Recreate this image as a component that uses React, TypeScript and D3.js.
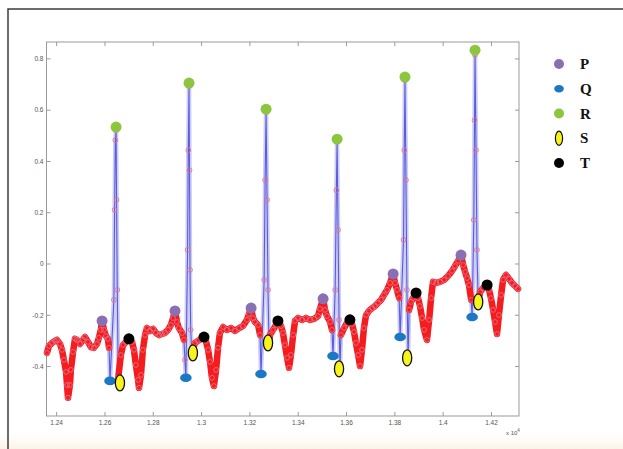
import React from "react";
import * as d3 from "d3";

// ECG samples (sample index, amplitude)
const sampleIdx = [
  12360, 12368, 12381, 12393, 12401, 12414, 12422, 12430, 12439, 12443, 12447, 12455, 12459, 12468, 12476, 12484,
  12497, 12509, 12517, 12530, 12542, 12554, 12567, 12575, 12583, 12588, 12596, 12604, 12612, 12617, 12621, 12637,
  12640, 12643, 12646, 12648, 12651, 12655, 12666, 12675, 12687, 12699, 12712, 12720, 12728, 12737, 12741, 12749,
  12757, 12766, 12774, 12786, 12799, 12811, 12824, 12836, 12848, 12861, 12873, 12882, 12890, 12898, 12906, 12919,
  12927, 12931, 12935, 12942, 12945, 12948, 12950, 12952, 12955, 12959, 12973, 12985, 12998, 13010, 13018, 13027,
  13035, 13043, 13051, 13060, 13068, 13076, 13089, 13105, 13122, 13138, 13155, 13171, 13188, 13196, 13205, 13213,
  13221, 13234, 13242, 13246, 13259, 13263, 13267, 13271, 13275, 13279, 13283, 13296, 13308, 13316, 13329, 13337,
  13345, 13354, 13362, 13370, 13379, 13387, 13399, 13416, 13432, 13449, 13466, 13482, 13490, 13503, 13511, 13519,
  13532, 13540, 13544, 13553, 13558, 13561, 13565, 13569, 13573, 13577, 13590, 13602, 13614, 13623, 13631, 13639,
  13648, 13656, 13664, 13672, 13681, 13693, 13706, 13718, 13730, 13743, 13755, 13768, 13780, 13793, 13801, 13809,
  13818, 13822, 13836, 13839, 13842, 13846, 13850, 13855, 13859, 13867, 13875, 13888, 13896, 13904, 13913, 13921,
  13933, 13942, 13950, 13958, 13971, 13987, 14004, 14020, 14037, 14049, 14062, 14074, 14083, 14091, 14099, 14107,
  14116, 14120, 14127, 14130, 14132, 14136, 14140, 14145, 14153, 14165, 14182, 14190, 14198, 14207, 14215, 14223,
  14231, 14240, 14248, 14260, 14273, 14285, 14298, 14310,
];
const amplitude = [
  -0.347, -0.32, -0.308, -0.3, -0.296, -0.312, -0.335, -0.374, -0.421, -0.472, -0.522, -0.472, -0.413, -0.343, -0.292, -0.296,
  -0.312, -0.296, -0.285, -0.304, -0.324, -0.327, -0.312, -0.288, -0.257, -0.222, -0.257, -0.281, -0.292, -0.327, -0.456, -0.14,
  0.211, 0.483, 0.522, 0.25, -0.101, -0.444, -0.355, -0.316, -0.304, -0.292, -0.304, -0.335, -0.394, -0.452, -0.483, -0.433,
  -0.335, -0.277, -0.25, -0.261, -0.253, -0.269, -0.277, -0.273, -0.269, -0.257, -0.238, -0.211, -0.183, -0.226, -0.25, -0.269,
  -0.296, -0.374, -0.444, 0.055, 0.444, 0.694, 0.366, -0.023, -0.257, -0.343, -0.308, -0.3, -0.292, -0.285, -0.3, -0.335,
  -0.382, -0.444, -0.476, -0.413, -0.327, -0.269, -0.246, -0.257, -0.25, -0.261, -0.25, -0.242, -0.218, -0.195, -0.172, -0.211,
  -0.226, -0.238, -0.277, -0.429, -0.062, 0.327, 0.593, 0.25, -0.101, -0.308, -0.277, -0.257, -0.238, -0.222, -0.242, -0.269,
  -0.316, -0.366, -0.405, -0.355, -0.277, -0.222, -0.211, -0.218, -0.211, -0.218, -0.214, -0.203, -0.175, -0.136, -0.179, -0.203,
  -0.226, -0.257, -0.359, -0.101, 0.288, 0.476, 0.133, -0.218, -0.409, -0.277, -0.25, -0.23, -0.218, -0.234, -0.265, -0.308,
  -0.355, -0.398, -0.335, -0.25, -0.199, -0.183, -0.172, -0.164, -0.152, -0.14, -0.121, -0.101, -0.074, -0.039, -0.074, -0.101,
  -0.133, -0.285, 0.094, 0.444, 0.717, 0.327, -0.101, -0.366, -0.179, -0.148, -0.133, -0.113, -0.133, -0.164, -0.211, -0.257,
  -0.296, -0.218, -0.133, -0.07, -0.074, -0.07, -0.062, -0.047, -0.027, -0.008, 0.012, 0.035, -0.004, -0.031, -0.055, -0.082,
  -0.14, -0.207, 0.172, 0.561, 0.815, 0.444, 0.055, -0.148, -0.109, -0.094, -0.082, -0.101, -0.133, -0.179, -0.226, -0.273,
  -0.199, -0.121, -0.062, -0.043, -0.058, -0.074, -0.086, -0.097,
];

// Detected fiducial points
const pIdx = [12588, 12890, 13205, 13503, 13793, 14074];
const pVal = [-0.222, -0.183, -0.172, -0.136, -0.039, 0.035];
const qIdx = [12621, 12935, 13246, 13544, 13822, 14120];
const qVal = [-0.456, -0.444, -0.429, -0.359, -0.285, -0.207];
const rIdx = [12646, 12948, 13267, 13561, 13842, 14132];
const rVal = [0.534, 0.706, 0.604, 0.487, 0.729, 0.834];
const sIdx = [12662, 12964, 13275, 13569, 13851, 14145];
const sVal = [-0.464, -0.347, -0.308, -0.409, -0.366, -0.148];
const tIdx = [12699, 13010, 13316, 13614, 13888, 14182];
const tVal = [-0.292, -0.285, -0.222, -0.218, -0.113, -0.082];

const xTicks = [12400, 12600, 12800, 13000, 13200, 13400, 13600, 13800, 14000, 14200];
const yTicks = [-0.4, -0.2, 0, 0.2, 0.4, 0.6, 0.8];
const legendLabels = ["P", "Q", "R", "S", "T"];

const W = 623;
const H = 449;
const PL = 46.5, PR = 519, PT = 42, PB = 416;

const COL = {
  P: "#8a6fb3",
  Q: "#1b78c4",
  R: "#8cc63e",
  S: "#f7f31c",
  T: "#000000",
};

export default function App() {
  const x = d3.scaleLinear().domain([12358, 14314]).range([PL, PR]);
  const y = d3.scaleLinear().domain([-0.593, 0.866]).range([PB, PT]);

  const idx = sampleIdx.map((_, i) => i);
  const line = d3
    .line<number>()
    .x((i) => x(sampleIdx[i]))
    .y((i) => y(amplitude[i]));
  const fullPath = line(idx) || "";

  // red band only on gentle (non-QRS) segments
  const band = d3.path();
  for (let i = 0; i < sampleIdx.length - 1; i++) {
    const x1 = x(sampleIdx[i]), y1 = y(amplitude[i]);
    const x2 = x(sampleIdx[i + 1]), y2 = y(amplitude[i + 1]);
    const slope = Math.abs(y2 - y1) / Math.max(0.1, Math.abs(x2 - x1));
    if (slope < 16 && amplitude[i] < 0.1 && amplitude[i + 1] < 0.1) {
      band.moveTo(x1, y1);
      band.lineTo(x2, y2);
    }
  }

  const fmtX = (v: number) => String(+(v / 1e4).toFixed(2));
  const fmtY = (v: number) => String(+v.toFixed(1));

  const legendY = d3.scalePoint<string>().domain(legendLabels).range([64, 163]);

  const legendMarker = (k: string, cy: number) => {
    const cx = 559;
    if (k === "Q") return <ellipse cx={cx} cy={cy} rx={4.8} ry={3.8} fill={COL.Q} />;
    if (k === "S")
      return <ellipse cx={cx} cy={cy} rx={3.6} ry={7.2} fill={COL.S} stroke="#111" strokeWidth={1.2} />;
    return <circle cx={cx} cy={cy} r={5} fill={(COL as any)[k]} />;
  };

  return (
    <div style={{ position: "absolute", left: 0, top: 0 }}>
      <svg width={W} height={H} style={{ display: "block", background: "#ffffff" }}>
        <defs>
          <linearGradient id="cream" x1="0" y1="0" x2="0" y2="1">
            <stop offset="0" stopColor="#ffffff" stopOpacity={0} />
            <stop offset="1" stopColor="#fcf2e6" stopOpacity={1} />
          </linearGradient>
        </defs>
        <rect x={0} y={428} width={W} height={21} fill="url(#cream)" />
        {/* outer frame */}
        <rect x={8} y={9} width={W} height={H} fill="none" stroke="#3c3c3c" strokeWidth={1.5} />

        {/* axes box */}
        <rect x={PL} y={PT} width={PR - PL} height={PB - PT} fill="none" stroke="#9a9a9a" strokeWidth={1} />
        {xTicks.map((t) => (
          <g key={"xt" + t}>
            <line x1={x(t)} x2={x(t)} y1={PB} y2={PB - 4} stroke="#9a9a9a" />
            <line x1={x(t)} x2={x(t)} y1={PT} y2={PT + 4} stroke="#9a9a9a" />
            <text x={x(t)} y={PB + 9} fontSize={6.5} fill="#555" textAnchor="middle" fontFamily="Liberation Sans, Arial">
              {fmtX(t)}
            </text>
          </g>
        ))}
        {yTicks.map((t) => (
          <g key={"yt" + t}>
            <line x1={PL} x2={PL + 4} y1={y(t)} y2={y(t)} stroke="#9a9a9a" />
            <line x1={PR} x2={PR - 4} y1={y(t)} y2={y(t)} stroke="#9a9a9a" />
            <text x={PL - 3} y={y(t) + 2.3} fontSize={6.5} fill="#555" textAnchor="end" fontFamily="Liberation Sans, Arial">
              {fmtY(t)}
            </text>
          </g>
        ))}
        <text x={506} y={435} fontSize={6} fill="#555" fontFamily="Liberation Sans, Arial">
          x 10
          <tspan dy={-3} fontSize={4.5}>4</tspan>
        </text>

        {/* signal */}
        <path d={fullPath} fill="none" stroke="#cdcdf4" strokeWidth={4.5} strokeLinejoin="round" />
        <path d={fullPath} fill="none" stroke="#5b5be0" strokeWidth={1.1} strokeLinejoin="round" />
        <path d={band.toString()} fill="none" stroke="#f41c1c" strokeWidth={6.5} strokeLinecap="round" />
        {idx.map((i) => (
          <circle
            key={"m" + i}
            cx={x(sampleIdx[i])}
            cy={y(amplitude[i])}
            r={2.4}
            fill="none"
            stroke="#e5708a"
            strokeWidth={0.9}
          />
        ))}

        {/* fiducial markers */}
        {pIdx.map((v, i) => (
          <circle key={"p" + i} cx={x(v)} cy={y(pVal[i])} r={5.5} fill={COL.P} />
        ))}
        {qIdx.map((v, i) => (
          <ellipse key={"q" + i} cx={x(v)} cy={y(qVal[i])} rx={5.8} ry={4.3} fill={COL.Q} />
        ))}
        {rIdx.map((v, i) => (
          <circle key={"r" + i} cx={x(v)} cy={y(rVal[i])} r={5.5} fill={COL.R} />
        ))}
        {sIdx.map((v, i) => (
          <ellipse key={"s" + i} cx={x(v)} cy={y(sVal[i])} rx={4.6} ry={8} fill={COL.S} stroke="#111" strokeWidth={1.3} />
        ))}
        {tIdx.map((v, i) => (
          <circle key={"t" + i} cx={x(v)} cy={y(tVal[i])} r={5.5} fill={COL.T} />
        ))}

        {/* legend */}
        {legendLabels.map((k) => {
          const cy = legendY(k) as number;
          return (
            <g key={"lg" + k}>
              {legendMarker(k, cy)}
              <text x={580} y={cy + 5} fontSize={15} fontWeight="bold" fontFamily="Liberation Serif, Times New Roman, serif" fill="#111">
                {k}
              </text>
            </g>
          );
        })}
      </svg>
    </div>
  );
}
